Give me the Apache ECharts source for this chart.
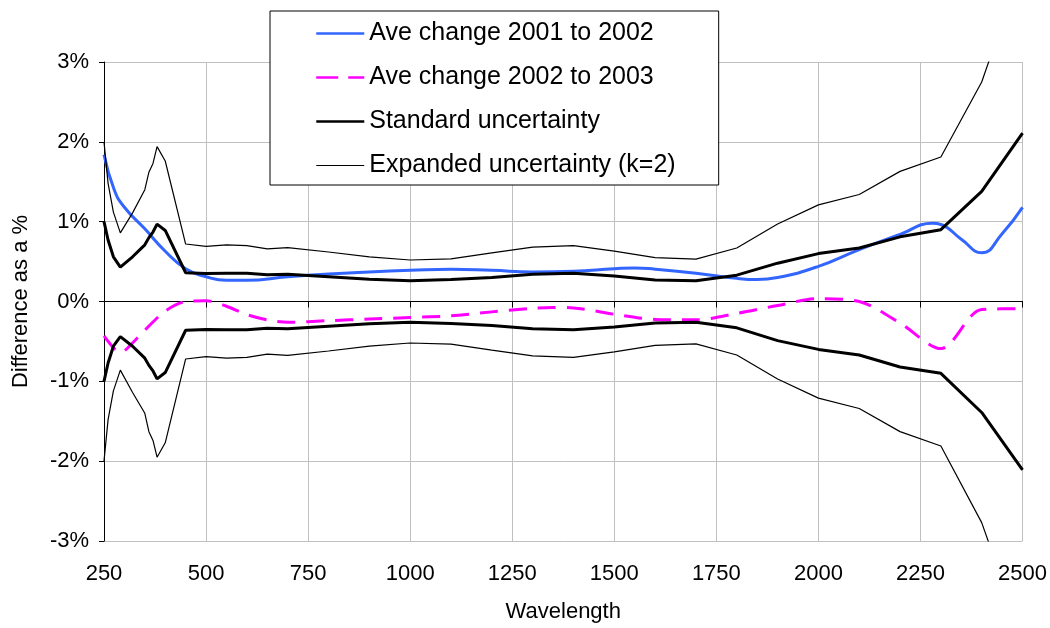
<!DOCTYPE html>
<html>
<head>
<meta charset="utf-8">
<script src="https://cdn.jsdelivr.net/npm/echarts@6/dist/echarts.min.js"></script>
<style>
  html, body { margin: 0; padding: 0; background: #fff; }
  #chart { width: 1050px; height: 628px; }
</style>
</head>
<body>
<div id="chart"></div>
<script>
// Wavelength samples (nm) and relative differences (%)
const uncX = [250,260,273,290,320,350,360,370,380,400,450,500,550,600,650,700,800,900,1000,1100,1200,1300,1400,1500,1600,1700,1800,1900,2000,2100,2200,2300,2400,2500];
const stdUpper = [1.00,0.77,0.56,0.43,0.56,0.71,0.80,0.87,0.97,0.89,0.36,0.35,0.355,0.355,0.335,0.34,0.31,0.28,0.26,0.275,0.30,0.34,0.355,0.32,0.27,0.26,0.33,0.48,0.60,0.67,0.81,0.90,1.38,2.11];
const stdLower = [-1.00,-0.77,-0.56,-0.44,-0.56,-0.71,-0.80,-0.87,-0.97,-0.89,-0.36,-0.35,-0.355,-0.355,-0.335,-0.34,-0.31,-0.28,-0.26,-0.275,-0.30,-0.34,-0.355,-0.32,-0.27,-0.26,-0.33,-0.49,-0.60,-0.67,-0.82,-0.90,-1.39,-2.11];
const expUpper = [2.00,1.48,1.12,0.86,1.11,1.40,1.62,1.73,1.94,1.76,0.72,0.69,0.71,0.70,0.66,0.675,0.62,0.56,0.52,0.535,0.61,0.68,0.70,0.63,0.55,0.53,0.67,0.97,1.21,1.34,1.63,1.81,2.75,4.22];
const expLower = [-2.00,-1.48,-1.12,-0.86,-1.14,-1.40,-1.63,-1.74,-1.95,-1.77,-0.72,-0.69,-0.71,-0.70,-0.66,-0.675,-0.62,-0.56,-0.52,-0.535,-0.61,-0.68,-0.70,-0.63,-0.55,-0.53,-0.67,-0.97,-1.21,-1.34,-1.63,-1.81,-2.77,-4.22];

const change0102X = [250,275,300,350,400,450,500,550,600,700,800,900,1000,1100,1200,1300,1400,1500,1550,1600,1700,1800,1850,1900,2000,2100,2200,2280,2300,2350,2400,2450,2500];
const change0102 = [1.84,1.40,1.18,0.91,0.63,0.41,0.31,0.265,0.265,0.31,0.345,0.37,0.39,0.405,0.39,0.37,0.38,0.41,0.42,0.405,0.355,0.29,0.275,0.30,0.44,0.65,0.84,0.98,0.965,0.78,0.61,0.85,1.18];

const change0203X = [250,275,290,300,350,400,450,500,550,600,650,700,800,900,1000,1100,1200,1300,1350,1400,1500,1600,1700,1800,1900,2000,2100,2200,2300,2400,2500];
const change0203 = [-0.43,-0.59,-0.64,-0.62,-0.36,-0.12,0.00,0.01,-0.06,-0.165,-0.23,-0.26,-0.24,-0.22,-0.20,-0.18,-0.13,-0.085,-0.075,-0.08,-0.16,-0.225,-0.23,-0.15,-0.05,0.035,0.00,-0.27,-0.59,-0.10,-0.09];

const seriesNames = ['Ave change 2001 to 2002', 'Ave change 2002 to 2003', 'Standard uncertainty', 'Expanded uncertainty (k=2)'];

const pairs = (xs, ys) => xs.map((x, i) => [x, ys[i]]);

const FONT = '"Liberation Sans", Arial, sans-serif';
const GRID_GREY = '#c0c0c0';
const BLUE = '#3366ff';
const MAGENTA = '#ff00ff';
const DASH = [18, 11];

const chart = echarts.init(document.getElementById('chart'), null, { renderer: 'canvas' });

const thick = { color: '#000', width: 3 };
const thin = { color: '#000', width: 1.2 };
// legend entries: plain line samples, no marker
const hiddenMarker = { color: 'rgba(0,0,0,0)', borderWidth: 0, opacity: 0 };

chart.setOption({
  animation: false,
  backgroundColor: '#fff',
  textStyle: { fontFamily: FONT, color: '#000' },
  grid: { left: 104, right: 27, top: 62, bottom: 86 },
  legend: {
    data: [
      { name: seriesNames[0], itemStyle: hiddenMarker, lineStyle: { color: BLUE, width: 2.5 } },
      { name: seriesNames[1], itemStyle: hiddenMarker, lineStyle: { color: MAGENTA, width: 2.5, type: [22, 10] } },
      { name: seriesNames[2], itemStyle: hiddenMarker, lineStyle: { color: '#000', width: 2.5 } },
      { name: seriesNames[3], itemStyle: hiddenMarker, lineStyle: { color: '#000', width: 1 } }
    ],
    orient: 'vertical',
    left: 270,
    top: 11,
    padding: [10, 43, 7, 45],
    itemWidth: 48,
    itemHeight: 24,
    itemGap: 19,
    itemStyle: hiddenMarker,
    backgroundColor: '#fff',
    borderColor: '#000',
    borderWidth: 1,
    textStyle: { fontSize: 25, color: '#000', fontFamily: FONT }
  },
  xAxis: [
    {
      type: 'value',
      position: 'bottom',
      min: 250, max: 2500, interval: 250,
      name: 'Wavelength',
      nameLocation: 'middle',
      nameGap: 60,
      nameTextStyle: { fontSize: 22, color: '#000', fontFamily: FONT },
      axisLine: { show: false, onZero: false },
      axisTick: { show: false },
      axisLabel: { fontSize: 22, color: '#000', margin: 22, fontFamily: FONT, formatter: v => String(v) },
      splitLine: { show: true, lineStyle: { color: GRID_GREY, width: 1 } }
    },
    {
      type: 'value',
      position: 'bottom',
      min: 250, max: 2500, interval: 250,
      axisLine: { show: true, onZero: true, lineStyle: { color: '#000', width: 1 } },
      axisTick: { show: true, length: 6, lineStyle: { color: '#000', width: 1 } },
      axisLabel: { show: false },
      splitLine: { show: false }
    }
  ],
  yAxis: {
    type: 'value',
    min: -3, max: 3, interval: 1,
    name: 'Difference as a %',
    nameLocation: 'middle',
    nameRotate: 90,
    nameGap: 72,
    nameTextStyle: { fontSize: 22, color: '#000', fontFamily: FONT },
    axisLine: { show: true, onZero: false, lineStyle: { color: '#000', width: 1 } },
    axisTick: { show: true, length: 5, lineStyle: { color: '#000', width: 1 } },
    axisLabel: { fontSize: 22, color: '#000', margin: 15, formatter: '{value}%', fontFamily: FONT },
    splitLine: { show: true, lineStyle: { color: GRID_GREY, width: 1 } }
  },
  series: [
    {
      name: seriesNames[0], type: 'line', xAxisIndex: 0,
      data: pairs(change0102X, change0102),
      symbol: 'none', smooth: 0.5,
      color: BLUE,
      lineStyle: { color: BLUE, width: 3 }
    },
    {
      name: seriesNames[1], type: 'line', xAxisIndex: 0,
      data: pairs(change0203X, change0203),
      symbol: 'none', smooth: 0.3,
      color: MAGENTA,
      lineStyle: { color: MAGENTA, width: 3, type: DASH }
    },
    {
      name: seriesNames[2], type: 'line', xAxisIndex: 0,
      data: pairs(uncX, stdUpper),
      symbol: 'none', color: '#000', lineStyle: thick
    },
    {
      name: seriesNames[3], type: 'line', xAxisIndex: 0,
      data: pairs(uncX, expUpper),
      symbol: 'none', color: '#000', lineStyle: thin
    },
    {
      name: seriesNames[2], type: 'line', xAxisIndex: 0,
      data: pairs(uncX, stdLower),
      symbol: 'none', color: '#000', lineStyle: thick
    },
    {
      name: seriesNames[3], type: 'line', xAxisIndex: 0,
      data: pairs(uncX, expLower),
      symbol: 'none', color: '#000', lineStyle: thin
    }
  ]
});
</script>
</body>
</html>
